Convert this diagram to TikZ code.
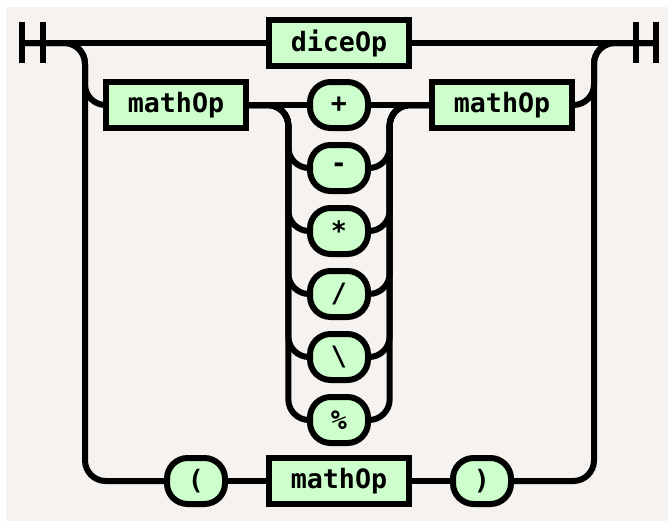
\documentclass[tikz,border=0pt]{standalone}
\usepackage{fontspec}
\setmonofont{DejaVu Sans Mono}
\usetikzlibrary{positioning}
\definecolor{railbg}{HTML}{F5F2EF}
\definecolor{boxfill}{HTML}{CCFFCC}
\tikzset{
    rail/.style={line width=4.5pt, rounded corners=15.5pt},
    endbar/.style={line width=4.5pt},
    nonterm/.style={draw, line width=4.5pt, fill=boxfill, inner sep=0pt,
        minimum width=105pt, minimum height=34pt,
        font=\ttfamily\bfseries\fontsize{20}{22}\selectfont},
    term/.style={nonterm, minimum width=43.5pt, minimum height=34.5pt, rounded corners=15.5pt}
}
\begin{document}
\begin{tikzpicture}[x=0.75pt, y=-0.75pt]
            \useasboundingbox (0,0) rectangle (668,521);
            \fill[railbg] (6,7) rectangle (668,521);

            % start and end bars
            \coordinate (s) at (21.5,43);
            \coordinate (e) at (655.5,43);
            \draw[endbar] (s) ++(0,-21) -- ++(0,41);
            \draw[endbar] (s) ++(21,-21) -- ++(0,41);
            \draw[endbar] (e) ++(0,-21) -- ++(0,41);
            \draw[endbar] (e) ++(-20,-21) -- ++(0,41);
            \coordinate (lrail) at (85,43);
            \coordinate (rrail) at (594,43);

            % top: diceOp
            \node[nonterm] (dice) at (339,43) {diceOp};
            \draw[rail] (s) -- (dice.west);
            \draw[rail] (dice.east) -- (e);

            % middle: mathOp op mathOp
            \foreach \sym [count=\i from 0] in {{+},{-},{*},{/},{\textbackslash},{\%}} {
                \node[term] (op\i) at (339,105+63*\i) {\sym};
            }
            \node[nonterm, left=43.5pt of op0] (m1) {mathOp};
            \node[nonterm, right=43.5pt of op0] (m2) {mathOp};
            \draw[rail] (s) -- (lrail) |- (m1.west);
            \draw[rail] (m1.east) -- (op0.west);
            \draw[rail] (op0.east) -- (m2.west);
            \foreach \i in {1,...,5} {
                \draw[rail] (m1.east) -| ([xshift=-14pt]op\i.west) -- (op\i.west);
                \draw[rail] (op\i.east) -- ([xshift=14pt]op\i.east) |- (m2.west);
            }
            \draw[rail] (m2.east) -| (rrail) -- (e);

            % bottom: ( mathOp )
            \node[nonterm] (m3) at (339,481) {mathOp};
            \node[term, left=28.5pt of m3] (lp) {(};
            \node[term, right=28.5pt of m3] (rp) {)};
            \draw[rail] (s) -- (lrail) |- (lp.west);
            \draw[rail] (lp.east) -- (m3.west);
            \draw[rail] (m3.east) -- (rp.west);
            \draw[rail] (rp.east) -| (rrail) -- (e);
\end{tikzpicture}
\end{document}
